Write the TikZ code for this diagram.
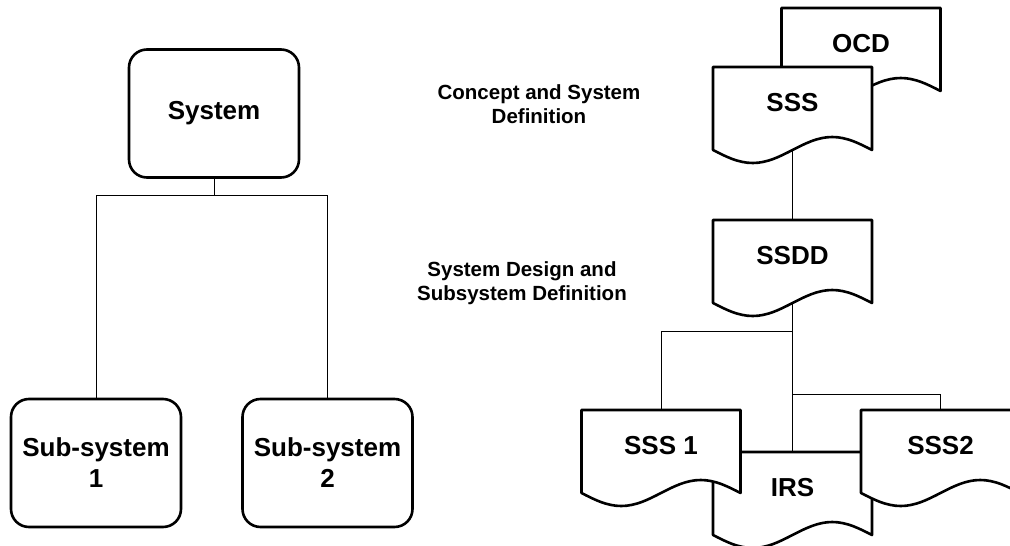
\documentclass[tikz,border=0pt]{standalone}
\usepackage{fontspec}
\setmainfont{Liberation Sans}
\usetikzlibrary{calc}

% document sheet with a wavy lower edge, #1 name, #2 centre, #3 text
\newcommand{\docsheet}[3]{%
  \filldraw[sheet] ($(#2)+(-79.5,-41.5)$) -- ++(159,0) -- ++(0,83)
    sin ++(-39.75,-13) cos ++(-39.75,13) sin ++(-39.75,13) cos ++(-39.75,-13) -- cycle;
  \node (#1) [sheettext] at (#2) {#3};
}

\begin{document}
\begin{tikzpicture}[x=1pt,y=-1pt]
\tikzstyle{block}=[draw,line width=2.6pt,rounded corners=18pt,minimum width=170pt,minimum height=128pt,inner sep=0pt,align=center,font=\fontsize{26}{31}\selectfont\bfseries]

\tikzstyle{sheet}=[fill=white,draw,line width=2.6pt,line join=round]

\tikzstyle{sheettext}=[inner sep=0pt,minimum width=159pt,minimum height=83pt,text height=18.6pt,text depth=13pt,font=\fontsize{26}{31}\selectfont\bfseries]

\tikzstyle{link}=[line width=0.8pt]

\tikzstyle{phase}=[align=center,font=\fontsize{20.5}{23.5}\selectfont\bfseries]

\useasboundingbox (0,0) rectangle (1010,546);
\clip (0,0) rectangle (1010,546);

\node (system) [block] at (214,113.5) {System};
\node (sub1) [block] at (96,463) {Sub-system\\1};
\node (sub2) [block] at (327.5,463) {Sub-system\\2};

\draw [link] (system.south) -- ++(0,17) -| (sub1.north);
\draw [link] (system.south) -- ++(0,17) -| (sub2.north);

\node (concept) [phase] at (539,104) {Concept and System\\Definition};
\node (design) [phase] at (522,283) {System Design and\\Subsystem Definition};

\docsheet{ocd}{861,49.5}{OCD}
\docsheet{sss}{792.5,108.5}{SSS}
\docsheet{ssdd}{792.5,261.5}{SSDD}
\docsheet{irs}{792.5,493.5}{IRS}
\docsheet{sss1}{661,451.5}{SSS 1}
\docsheet{sss2}{940.5,451.5}{SSS2}

\draw [link] (sss.south) -- (ssdd.north);
\draw [link] (ssdd.south) -- (irs.north);
\draw [link] (ssdd.south) -- ++(0,28) -| (sss1.north);
\draw [link] (ssdd.south) -- ++(0,91) -| (sss2.north);

\end{tikzpicture}
\end{document}
